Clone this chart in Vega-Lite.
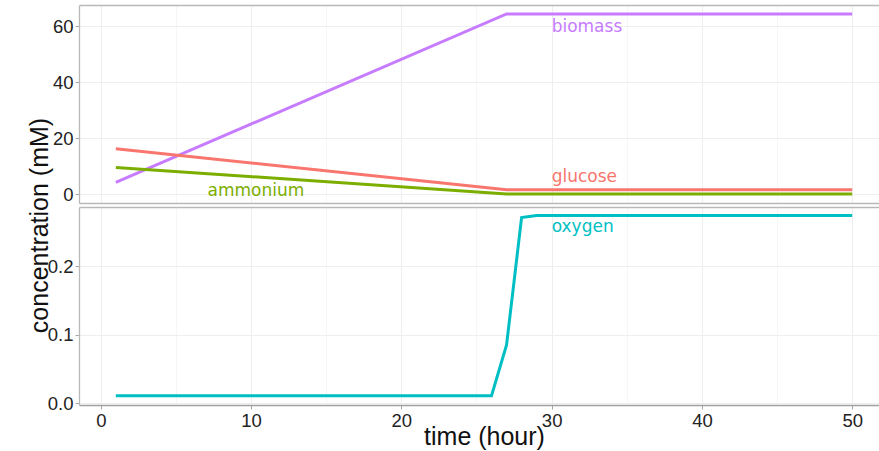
{
  "$schema": "https://vega.github.io/schema/vega-lite/v6.json",
  "background": "white",
  "padding": {"left": 26, "top": 5, "right": 0, "bottom": 2},
  "autosize": {"type": "pad"},
  "spacing": 4,
  "bounds": "flush",
  "config": {
    "view": {"stroke": null},
    "axis": {
      "labelFont": "Liberation Sans",
      "labelFontSize": 18.5,
      "labelColor": "#222222",
      "titleFont": "Liberation Sans",
      "titleFontSize": 25,
      "titleFontWeight": "normal",
      "titleColor": "#111111",
      "domainColor": "#b8b8b8",
      "domainWidth": 1.3,
      "tickColor": "#a8a8a8",
      "tickSize": 4,
      "labelPadding": 2
    }
  },
  "datasets": {
    "series": [
      {"species": "biomass", "panel": "top", "time": 1, "value": 4.15},
      {"species": "biomass", "panel": "top", "time": 27, "value": 64.3},
      {"species": "biomass", "panel": "top", "time": 50, "value": 64.3},
      {"species": "glucose", "panel": "top", "time": 1, "value": 16.2},
      {"species": "glucose", "panel": "top", "time": 27, "value": 1.5},
      {"species": "glucose", "panel": "top", "time": 50, "value": 1.5},
      {"species": "ammonium", "panel": "top", "time": 1, "value": 9.5},
      {"species": "ammonium", "panel": "top", "time": 27, "value": 0.0},
      {"species": "ammonium", "panel": "top", "time": 50, "value": 0.0},
      {"species": "oxygen", "panel": "bottom", "time": 1, "value": 0.011},
      {"species": "oxygen", "panel": "bottom", "time": 26, "value": 0.011},
      {"species": "oxygen", "panel": "bottom", "time": 27, "value": 0.085},
      {"species": "oxygen", "panel": "bottom", "time": 28, "value": 0.2707},
      {"species": "oxygen", "panel": "bottom", "time": 29, "value": 0.2737},
      {"species": "oxygen", "panel": "bottom", "time": 50, "value": 0.2737}
    ],
    "labels": [
      {"species": "biomass", "panel": "top", "time": 30, "value": 58.0},
      {"species": "glucose", "panel": "top", "time": 30, "value": 4.4},
      {"species": "ammonium", "panel": "top", "time": 7.1, "value": -0.6},
      {"species": "oxygen", "panel": "bottom", "time": 30, "value": 0.25}
    ]
  },
  "vconcat": [
    {
      "width": 801,
      "height": 198,
      "layer": [
        {
          "data": {"name": "series"},
          "transform": [{"filter": "datum.panel === 'top'"}],
          "mark": {"type": "line", "strokeWidth": 3, "clip": true},
          "encoding": {
            "x": {
              "field": "time", "type": "quantitative",
              "scale": {"domain": [-1.45, 51.85], "nice": false, "zero": false},
              "axis": {
                "orient": "bottom", "title": null, "labels": false, "ticks": false,
                "values": [0, 5, 10, 15, 20, 25, 30, 35, 40, 45, 50],
                "gridColor": {"condition": {"test": "datum.value % 10 === 0", "value": "#eeeeee"}, "value": "#f6f6f6"},
                "gridWidth": 1
              }
            },
            "y": {
              "field": "value", "type": "quantitative",
              "scale": {"domain": [-3.2, 67.5], "nice": false, "zero": false},
              "axis": {
                "title": null,
                "values": [0, 10, 20, 30, 40, 50, 60],
                "labelExpr": "datum.value % 20 === 0 ? datum.label : ''",
                "tickOpacity": {"condition": {"test": "datum.value % 20 === 0", "value": 1}, "value": 0},
                "gridColor": {"condition": {"test": "datum.value % 20 === 0", "value": "#eeeeee"}, "value": "#f6f6f6"}
              }
            },
            "color": {
              "field": "species", "type": "nominal",
              "scale": {"domain": ["ammonium", "biomass", "glucose", "oxygen"], "range": ["#7CAE00", "#C77CFF", "#F8766D", "#00BFC4"]},
              "legend": null
            }
          }
        },
        {
          "data": {"name": "labels"},
          "transform": [{"filter": "datum.panel === 'top'"}],
          "mark": {"type": "text", "font": "DejaVu Sans", "fontSize": 17, "align": "left", "baseline": "alphabetic"},
          "encoding": {
            "x": {
              "field": "time", "type": "quantitative",
              "axis": {"orient": "top", "title": null, "labels": false, "ticks": false, "grid": false}
            },
            "y": {"field": "value", "type": "quantitative"},
            "text": {"field": "species"},
            "color": {"field": "species", "type": "nominal", "legend": null}
          }
        }
      ],
      "resolve": {"axis": {"x": "independent"}}
    },
    {
      "width": 801,
      "height": 198,
      "layer": [
        {
          "data": {"name": "series"},
          "transform": [{"filter": "datum.panel === 'bottom'"}],
          "mark": {"type": "line", "strokeWidth": 3, "clip": true},
          "encoding": {
            "x": {
              "field": "time", "type": "quantitative",
              "scale": {"domain": [-1.45, 51.85], "nice": false, "zero": false},
              "axis": {
                "orient": "bottom", "title": "time (hour)",
                "titleX": 405, "titleY": 31, "titleBaseline": "middle",
                "values": [0, 5, 10, 15, 20, 25, 30, 35, 40, 45, 50],
                "labelExpr": "datum.value % 10 === 0 ? datum.label : ''",
                "tickOpacity": {"condition": {"test": "datum.value % 10 === 0", "value": 1}, "value": 0},
                "gridColor": {"condition": {"test": "datum.value % 10 === 0", "value": "#eeeeee"}, "value": "#f6f6f6"},
                "domainColor": "#a0a0a0"
              }
            },
            "y": {
              "field": "value", "type": "quantitative",
              "scale": {"domain": [-0.0025, 0.2862], "nice": false, "zero": false},
              "axis": {
                "title": "concentration (mM)",
                "titleX": -40, "titleY": 18, "titleBaseline": "middle", "titleAlign": "center", "titleAngle": 270,
                "values": [0, 0.05, 0.1, 0.15, 0.2, 0.25],
                "format": ".1f",
                "labelExpr": "abs(datum.value * 10 - round(datum.value * 10)) < 1e-6 ? datum.label : ''",
                "tickOpacity": {"condition": {"test": "abs(datum.value * 10 - round(datum.value * 10)) < 1e-6", "value": 1}, "value": 0},
                "gridColor": {"condition": {"test": "abs(datum.value * 10 - round(datum.value * 10)) < 1e-6", "value": "#eeeeee"}, "value": "#f6f6f6"}
              }
            },
            "color": {
              "field": "species", "type": "nominal",
              "scale": {"domain": ["ammonium", "biomass", "glucose", "oxygen"], "range": ["#7CAE00", "#C77CFF", "#F8766D", "#00BFC4"]},
              "legend": null
            }
          }
        },
        {
          "data": {"name": "labels"},
          "transform": [{"filter": "datum.panel === 'bottom'"}],
          "mark": {"type": "text", "font": "DejaVu Sans", "fontSize": 17, "align": "left", "baseline": "alphabetic"},
          "encoding": {
            "x": {
              "field": "time", "type": "quantitative",
              "axis": {"orient": "top", "title": null, "labels": false, "ticks": false, "grid": false}
            },
            "y": {"field": "value", "type": "quantitative"},
            "text": {"field": "species"},
            "color": {"field": "species", "type": "nominal", "legend": null}
          }
        }
      ],
      "resolve": {"axis": {"x": "independent"}}
    }
  ]
}
